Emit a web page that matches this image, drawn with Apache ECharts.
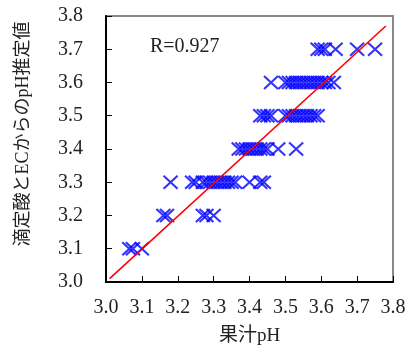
<!DOCTYPE html>
<html><head><meta charset="utf-8">
<script src="https://cdn.jsdelivr.net/npm/echarts@6/dist/echarts.min.js"></script>
<style>html,body{margin:0;padding:0;background:#fff}#c{width:410px;height:358px}</style>
</head><body><div id="c"></div>
<script>
// juice pH (x) for each estimated-pH level (y)
const row31 = [3.065, 3.075, 3.10];
const row32 = [3.16, 3.17, 3.27, 3.28, 3.30];
const row33 = [3.18, 3.24, 3.25, 3.27, 3.28, 3.29, 3.30, 3.31, 3.32, 3.33, 3.34, 3.35, 3.36, 3.40, 3.43, 3.44];
const row34 = [3.37, 3.38, 3.39, 3.40, 3.41, 3.42, 3.43, 3.44, 3.45, 3.48, 3.53];
const row35 = [3.43, 3.44, 3.45, 3.46, 3.50, 3.51, 3.52, 3.53, 3.54, 3.55, 3.56, 3.57, 3.58, 3.59];
const row36 = [3.46, 3.50, 3.51, 3.52, 3.53, 3.54, 3.55, 3.56, 3.57, 3.58, 3.59, 3.60, 3.61, 3.62, 3.635];
const row37 = [3.59, 3.60, 3.61, 3.64, 3.70, 3.75];
const yLevels = [3.1, 3.2, 3.3, 3.4, 3.5, 3.6, 3.7];
const rows = [row31, row32, row33, row34, row35, row36, row37];
// regression line end points
const lineX = [3.01, 3.78];
const lineY = [3.01, 3.77];
const rText = 'R=0.927';
const xName = '果汁pH';
const yName = '滴定酸とECからのpH推定値';

const pts = [];
rows.forEach((r, i) => r.forEach(x => pts.push([x, yLevels[i]])));
const lineData = lineX.map((x, i) => [x, lineY[i]]);

const font = '"Liberation Serif","Noto Sans CJK JP",serif';
const chart = echarts.init(document.getElementById('c'));
chart.setOption({
  animation: false,
  backgroundColor: '#fff',
  grid: {left: 106, right: 17, top: 16, bottom: 76, show: true, borderColor: '#888', borderWidth: 2},
  xAxis: {
    type: 'value', min: 3.0, max: 3.8, interval: 0.1,
    name: xName, nameLocation: 'middle', nameGap: 45,
    nameTextStyle: {fontFamily: font, fontSize: 19, color: '#222'},
    axisLine: {show: true, lineStyle: {color: '#000', width: 2}},
    axisTick: {show: true, inside: true, length: 6, lineStyle: {color: '#000'}},
    axisLabel: {fontFamily: font, fontSize: 20, color: '#222', margin: 16, formatter: v => v.toFixed(1)},
    splitLine: {show: false}
  },
  yAxis: {
    type: 'value', min: 3.0, max: 3.8, interval: 0.1,
    name: yName, nameLocation: 'middle', nameGap: 74, nameRotate: 90,
    nameTextStyle: {fontFamily: font, fontSize: 18, color: '#222', padding: [0, 0, 0, 30]},
    axisLine: {show: true, lineStyle: {color: '#000', width: 2}},
    axisTick: {show: true, inside: true, length: 6, lineStyle: {color: '#000'}},
    axisLabel: {fontFamily: font, fontSize: 20, color: '#222', margin: 23, formatter: v => v.toFixed(1)},
    splitLine: {show: false}
  },
  graphic: [{type: 'text', left: 150, top: 37, style: {text: rText, font: '20px ' + font, fill: '#222'}}],
  series: [
    {
      type: 'scatter', data: pts,
      symbol: 'path://M0,0L10,10M10,0L0,10', symbolSize: [14, 13],
      itemStyle: {color: 'rgba(0,0,0,0)', borderColor: '#0000ff', borderWidth: 2},
      z: 2
    },
    {
      type: 'line', data: lineData, symbol: 'none',
      lineStyle: {color: '#ff0000', width: 1.6}, z: 3
    }
  ]
});
</script></body></html>
